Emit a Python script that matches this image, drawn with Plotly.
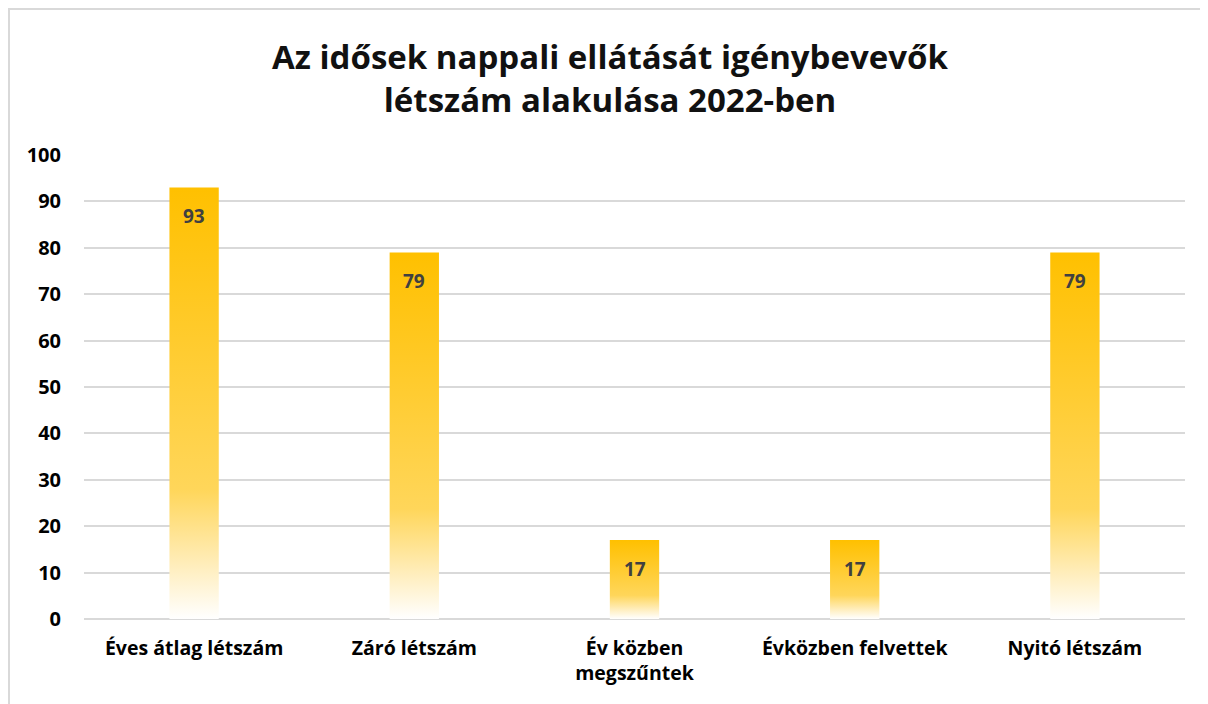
import plotly.graph_objects as go

categories = ["Éves átlag létszám", "Záró létszám", "Év közben<br>megszűntek", "Évközben felvettek", "Nyitó létszám"]
values = [93, 79, 17, 17, 79]
y_ticks = [0, 10, 20, 30, 40, 50, 60, 70, 80, 90, 100]
title_text = "Az idősek nappali ellátását igénybevevők<br>létszám alakulása 2022-ben"

BAR_HALF = 0.112
GOLD = "#FFC000"
gradient = [[0, "rgba(255,255,255,1)"], [0.12, "rgba(255,238,190,1)"],
            [0.3, "rgba(255,214,90,1)"], [1, GOLD]]

# page body adds an 8px offset; figure drawn at 1200x696
PL, PR, PT, PB = 76, 23, 147, 85
W, H = 1200, 696
plot_w = W - PL - PR
plot_h = H - PT - PB

fig = go.Figure()
for i, v in enumerate(values):
    fig.add_trace(go.Scatter(
        x=[i - BAR_HALF, i - BAR_HALF, i + BAR_HALF, i + BAR_HALF, i - BAR_HALF],
        y=[0, v, v, 0, 0],
        mode="lines", fill="toself", line=dict(width=0, color=GOLD),
        fillgradient=dict(type="vertical", colorscale=gradient, start=0, stop=v),
        hoverinfo="skip", showlegend=False))

annotations = [dict(x=i, y=v, xref="x", yref="y", text="<b>%d</b>" % v, showarrow=False,
                    yanchor="middle", yshift=-29,
                    font=dict(family="Open Sans", size=19, color="#404040"))
               for i, v in enumerate(values)]

fig.update_layout(
    width=W, height=H,
    margin=dict(l=PL, r=PR, t=PT, b=PB),
    paper_bgcolor="white", plot_bgcolor="white",
    title=dict(text="<b>" + title_text + "</b>", x=(610 - 8) / W, xref="container",
               xanchor="center", y=1 - 61 / H, yanchor="top",
               font=dict(family="Open Sans", size=33, color="#111111")),
    xaxis=dict(range=[-0.5, len(values) - 0.5], tickmode="array",
               tickvals=list(range(len(values))), ticktext=["<b>" + c + "</b>" for c in categories],
               showgrid=False, zeroline=False, showline=False, ticks="",
               tickfont=dict(family="Open Sans", size=19.5, color="#000000"),
               ticklabelstandoff=15),
    yaxis=dict(range=[0, 100], tickmode="array", tickvals=y_ticks,
               ticktext=["<b>%d</b>" % t for t in y_ticks],
               showgrid=True, gridcolor="#D9D9D9", gridwidth=2,
               zeroline=True, zerolinecolor="#D9D9D9", zerolinewidth=2,
               showline=False, ticks="",
               tickfont=dict(family="Open Sans", size=20, color="#000000"),
               ticklabelstandoff=22),
    annotations=annotations,
    shapes=[dict(type="rect", xref="paper", yref="paper",
                 x0=-(PL - 1) / plot_w, x1=1.1, y0=-0.3, y1=(plot_h + PT - 1) / plot_h,
                 line=dict(color="#D9D9D9", width=2), fillcolor="rgba(0,0,0,0)",
                 layer="below")],
)

fig.write_html("out.html")
